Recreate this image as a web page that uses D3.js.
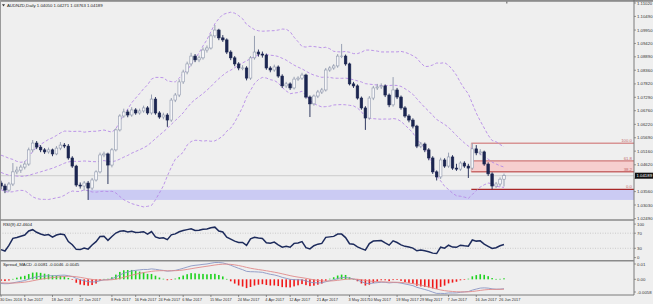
<!DOCTYPE html>
<html><head><meta charset="utf-8">
<script src="https://cdn.jsdelivr.net/npm/d3@7/dist/d3.min.js"></script>
<style>html,body{margin:0;padding:0;background:#efefef;}svg{display:block;}</style>
</head><body><div id="chart"></div>
<script>
// ---------------- DATA ----------------
const history = [1.0490,1.0478,1.0465,1.0482,1.0470,1.0455,1.0448,1.0460,1.0442,1.0430,1.0418,1.0425,1.0410,1.0400,1.0412,1.0395,1.0388,1.0402,1.0390];
const opens = [1.0390,1.0378,1.0362,1.0386,1.0434,1.0441,1.0453,1.0465,1.0521,1.0548,1.0532,1.0521,1.0513,1.0521,1.0505,1.0528,1.0540,1.0536,1.0489,1.0457,
1.0382,1.0378,1.0390,1.0370,1.0402,1.0434,1.0501,1.0505,1.0461,1.0521,1.0600,1.0655,1.0671,1.0659,1.0679,1.0667,1.0675,1.0687,1.0667,1.0722,
1.0667,1.0651,1.0659,1.0639,1.0718,1.0738,1.0790,1.0829,1.0861,1.0892,1.0877,1.0885,1.0916,1.0924,1.0972,1.0995,1.0964,1.0956,1.0908,1.0885,
1.0861,1.0845,1.0845,1.0805,1.0885,1.0908,1.0900,1.0896,1.0845,1.0837,1.0849,1.0813,1.0774,1.0782,1.0766,1.0801,1.0805,1.0817,1.0730,1.0703,
1.0734,1.0750,1.0758,1.0837,1.0845,1.0853,1.0892,1.0892,1.0861,1.0782,1.0774,1.0726,1.0687,1.0647,1.0726,1.0766,1.0770,1.0774,1.0738,1.0699,
1.0758,1.0730,1.0687,1.0655,1.0639,1.0615,1.0536,1.0544,1.0521,1.0489,1.0434,1.0414,1.0481,1.0457,1.0493,1.0449,1.0445,1.0469,1.0457,1.0449,
1.0525,1.0509,1.0513,1.0465,1.0426,1.0378,1.0386,1.04050];
const highs = [1.0399,1.0387,1.0394,1.0469,1.0455,1.0462,1.0476,1.0530,1.0560,1.0556,1.0540,1.0528,1.0530,1.0526,1.0536,1.0552,1.0548,1.0544,1.0496,1.0462,
1.0392,1.0398,1.0398,1.0410,1.0440,1.0510,1.0514,1.0510,1.0528,1.0606,1.0662,1.0684,1.0680,1.0690,1.0686,1.0684,1.0696,1.0694,1.0740,1.0730,
1.0674,1.0668,1.0666,1.0726,1.0746,1.0800,1.0838,1.0870,1.0905,1.0900,1.0894,1.0926,1.0934,1.0980,1.1015,1.1000,1.0975,1.0962,1.0915,1.0892,
1.0868,1.0856,1.0852,1.0892,1.0972,1.0918,1.0910,1.0902,1.0852,1.0858,1.0855,1.0820,1.0790,1.0788,1.0810,1.0812,1.0826,1.0822,1.0736,1.0740,
1.0758,1.0766,1.0845,1.0852,1.0860,1.0900,1.0940,1.0898,1.0866,1.0790,1.0780,1.0732,1.0694,1.0734,1.0774,1.0782,1.0784,1.0780,1.0744,1.0809,
1.0766,1.0736,1.0694,1.0662,1.0646,1.0620,1.0552,1.0550,1.0528,1.0496,1.0440,1.0490,1.0488,1.0510,1.0500,1.0466,1.0476,1.0476,1.0466,1.0547,
1.0540,1.0524,1.0518,1.0472,1.0432,1.0394,1.0412,1.04271];
const lows = [1.0366,1.0350,1.0355,1.0378,1.0425,1.0430,1.0444,1.0458,1.0512,1.0524,1.0512,1.0505,1.0506,1.0496,1.0500,1.0520,1.0528,1.0482,1.0450,1.0375,
1.0368,1.0360,1.0323,1.0362,1.0396,1.0428,1.0492,1.0386,1.0452,1.0515,1.0594,1.0648,1.0650,1.0652,1.0660,1.0660,1.0668,1.0660,1.0660,1.0660,
1.0644,1.0642,1.0612,1.0632,1.0710,1.0730,1.0782,1.0820,1.0852,1.0868,1.0868,1.0878,1.0906,1.0918,1.0964,1.0955,1.0948,1.0900,1.0876,1.0852,
1.0836,1.0836,1.0796,1.0798,1.0878,1.0890,1.0886,1.0838,1.0828,1.0830,1.0806,1.0766,1.0766,1.0758,1.0760,1.0794,1.0798,1.0724,1.0651,1.0696,
1.0726,1.0742,1.0752,1.0830,1.0838,1.0846,1.0884,1.0854,1.0776,1.0766,1.0720,1.0680,1.0600,1.0640,1.0718,1.0758,1.0762,1.0730,1.0690,1.0692,
1.0722,1.0680,1.0648,1.0630,1.0606,1.0528,1.0528,1.0512,1.0480,1.0426,1.0400,1.0406,1.0450,1.0450,1.0442,1.0438,1.0438,1.0450,1.0410,1.0442,
1.0500,1.0500,1.0458,1.0418,1.0365,1.0370,1.0376,1.03763];
const closes = [1.0378,1.0362,1.0386,1.0434,1.0441,1.0453,1.0465,1.0521,1.0548,1.0532,1.0521,1.0513,1.0521,1.0505,1.0528,1.0540,1.0536,1.0489,1.0457,1.0382,
1.0378,1.0390,1.0370,1.0402,1.0434,1.0501,1.0505,1.0461,1.0521,1.0600,1.0655,1.0671,1.0659,1.0679,1.0667,1.0675,1.0687,1.0667,1.0722,1.0667,
1.0651,1.0659,1.0639,1.0718,1.0738,1.0790,1.0829,1.0861,1.0892,1.0877,1.0885,1.0916,1.0924,1.0972,1.0995,1.0964,1.0956,1.0908,1.0885,1.0861,
1.0845,1.0845,1.0805,1.0885,1.0908,1.0900,1.0896,1.0845,1.0837,1.0849,1.0813,1.0774,1.0782,1.0766,1.0801,1.0805,1.0817,1.0730,1.0703,1.0734,
1.0750,1.0758,1.0837,1.0845,1.0853,1.0892,1.0892,1.0861,1.0782,1.0774,1.0726,1.0687,1.0647,1.0726,1.0766,1.0770,1.0774,1.0738,1.0699,1.0758,
1.0730,1.0687,1.0655,1.0639,1.0615,1.0536,1.0544,1.0521,1.0489,1.0434,1.0414,1.0481,1.0457,1.0493,1.0449,1.0445,1.0469,1.0457,1.0449,1.0525,
1.0509,1.0513,1.0465,1.0426,1.0378,1.0386,1.0405,1.04189];
const priceTicks = ["1.11020","1.10490","1.09950","1.09420","1.08890","1.08360","1.07820","1.07290","1.06760","1.06220","1.05690","1.05160","1.04620","1.04090","1.03560","1.03030","1.02490"];
const dateLabels = ["30 Dec 2016","9 Jan 2017","18 Jan 2017","27 Jan 2017","8 Feb 2017","16 Feb 2017","24 Feb 2017","6 Mar 2017","15 Mar 2017","24 Mar 2017","4 Apr 2017","12 Apr 2017","21 Apr 2017","3 May 2017","10 May 2017","19 May 2017","29 May 2017","7 Jun 2017","16 Jun 2017","26 Jun 2017"];
const rsiLevels = [70, 30];
const rsiTicks = ["100","70","30","0"];
const macdTickLabels = ["0.01","0.00","-0.0058"];
const fibLevels = [{name:"100.0", v:1.0547},{name:"61.8", v:1.04775},{name:"38.2", v:1.04345},{name:"0.0", v:1.0365}];
const supportZone = [1.0323, 1.0363];
const titleText = "AUDNZD,Daily  1.04050 1.04271 1.03763 1.04189";
const rsiTitle = "RSI(9) 42.4604";
const macdTitle = "Spread_MACD -0.0081 -0.0046 -0.0045";
const lastPrice = 1.04189;

// -------------- dates ---------------
const dates = d3.timeDay.range(new Date(2016,11,30), new Date(2017,5,28)).filter(d => d.getDay()!==0 && d.getDay()!==6);
const fmt = d3.timeFormat("%-d %b %Y");
const n = closes.length;

// -------------- indicators --------------
const all = history.concat(closes);
const H0 = history.length;
const bb = [];
for (let i=0;i<n;i++){
  const w = all.slice(i+H0-19, i+H0+1);
  const m = d3.mean(w);
  const sd = Math.sqrt(d3.mean(w, v => (v-m)*(v-m)));
  bb.push({i, mid:m, up:m+2*sd, lo:m-2*sd});
}
function ema(arr, p){ const k=2/(p+1); const out=[arr[0]]; for(let i=1;i<arr.length;i++) out.push(arr[i]*k+out[i-1]*(1-k)); return out; }
const e12 = ema(all,12), e26 = ema(all,26);
const macdAll = all.map((v,i)=>e12[i]-e26[i]);
const sigAll = ema(macdAll, 9);
const macd = [];
for (let i=0;i<n;i++){ const m = macdAll[i+H0], s = sigAll[i+H0]; macd.push({i, m, s, h:m-s}); }
// RSI(9) Wilder
const rsi = [];
{
  let ag=0, al=0; const p=9;
  for (let j=1;j<=p;j++){ const d=all[j]-all[j-1]; if(d>0) ag+=d; else al-=d; }
  ag/=p; al/=p;
  const vals = [];
  for (let j=p+1;j<all.length;j++){
    const d=all[j]-all[j-1];
    ag=(ag*(p-1)+(d>0?d:0))/p; al=(al*(p-1)+(d<0?-d:0))/p;
    vals[j] = al===0?100:100-100/(1+ag/al);
  }
  for (let i=0;i<n;i++) rsi.push({i, v: vals[i+H0]});
}

// -------------- layout --------------
const W=653, Ht=304, axisX=634;
const svg = d3.select("#chart").append("svg").attr("width",W).attr("height",Ht);
svg.append("rect").attr("width",W).attr("height",Ht).attr("fill","#efefef");
const font = "Liberation Sans, Arial, sans-serif";
const fs = 4.3;

const x = d3.scaleLinear().domain([0, n-1]).range([1, 504]);
const y = d3.scaleLinear().domain([1.03030, 1.11020]).range([205, 3]);
const yR = d3.scaleLinear().domain([0,100]).range([259.6, 221.9]);
const mExt = d3.extent(macd.flatMap(d=>[d.m,d.s]));
const yM = d3.scaleLinear().domain(mExt).range([293.5, 262.5]);
const histGain = 2.2; // display gain of histogram

const main = svg.append("g");
main.append("clipPath").attr("id","cm").append("rect").attr("x",0).attr("y",2).attr("width",axisX).attr("height",217);
const mg = main.append("g").attr("clip-path","url(#cm)");

// support zone
const zStart = x(lows.indexOf(supportZone[0]));
mg.append("rect").attr("x", zStart).attr("width", axisX - zStart)
  .attr("y", y(supportZone[1])).attr("height", y(supportZone[0]) - y(supportZone[1])).attr("fill","#cbcbf3");

// fib
const fibStart = x(highs.indexOf(fibLevels[0].v)) - 1;
mg.append("rect").attr("x",fibStart).attr("width",axisX-fibStart).attr("y",y(fibLevels[1].v)).attr("height",y(fibLevels[2].v)-y(fibLevels[1].v)).attr("fill","#f6cfcf");
mg.append("line").attr("x1",fibStart).attr("x2",fibStart).attr("y1",y(fibLevels[0].v)).attr("y2",y(fibLevels[2].v)).attr("stroke","#d9a0a0").attr("stroke-width",0.8);
const fibStyle = [{c:"#d89494",w:1.6},{c:"#cf7a7a",w:1.4},{c:"#c86a6a",w:1.4},{c:"#a82828",w:1.2}];
fibLevels.forEach((f,k)=>{
  mg.append("line").attr("x1",fibStart).attr("x2",axisX).attr("y1",y(f.v)).attr("y2",y(f.v)).attr("stroke",fibStyle[k].c).attr("stroke-width",fibStyle[k].w);
  mg.append("text").attr("x",axisX-2).attr("y",y(f.v)-1.2).attr("text-anchor","end").attr("font-family",font).attr("font-size",fs).attr("fill","#c46a6a").text(f.name);
});

// bid line
mg.append("line").attr("x1",0).attr("x2",axisX).attr("y1",y(lastPrice)).attr("y2",y(lastPrice)).attr("stroke","#c4c4c4").attr("stroke-width",0.8);

// bollinger
const bbColor = "#b58ae6";
["up","mid","lo"].forEach(k=>{
  mg.append("path").datum(bb).attr("fill","none").attr("stroke",bbColor).attr("stroke-width",0.9).attr("stroke-dasharray","3,2")
    .attr("d", d3.line().x(d=>x(d.i)).y(d=>y(d[k])));
});

// candles
const candles = mg.append("g");
const bw = 2.6;
for (let i=0;i<n;i++){
  const o=opens[i], c=closes[i], hh=highs[i], ll=lows[i];
  const bull = c>=o;
  const col = bull ? "#8d96ab" : "#1b2550";
  candles.append("line").attr("x1",x(i)).attr("x2",x(i)).attr("y1",y(hh)).attr("y2",y(ll)).attr("stroke",col).attr("stroke-width",0.9);
  const top = y(Math.max(o,c)), bot = y(Math.min(o,c));
  candles.append("rect").attr("x",x(i)-bw/2).attr("width",bw).attr("y",top).attr("height",Math.max(0.6,bot-top))
    .attr("fill", bull ? "#f6f6f8" : "#1b2550").attr("stroke",col).attr("stroke-width",0.6);
}

// title
svg.append("path").attr("d","M2,4.2L5,4.2L3.5,6.6Z").attr("fill","#333");
svg.append("text").attr("x",7).attr("y",6.8).attr("font-family",font).attr("font-size",fs).attr("fill","#222").text(titleText);

// price axis
priceTicks.forEach(t=>{
  const yy = y(+t);
  svg.append("line").attr("x1",axisX).attr("x2",axisX+2).attr("y1",yy).attr("y2",yy).attr("stroke","#555").attr("stroke-width",0.6);
  if (Math.abs(yy - y(lastPrice)) < 6) return; // hidden under the price box
  svg.append("text").attr("x",axisX+3).attr("y",yy+1.5).attr("font-family",font).attr("font-size",fs).attr("fill","#333").text(t);
});
// last price box
svg.append("rect").attr("x",axisX+1).attr("y",y(lastPrice)-3).attr("width",18).attr("height",6).attr("fill","#111");
svg.append("text").attr("x",axisX+2.5).attr("y",y(lastPrice)+1.6).attr("font-family",font).attr("font-size",fs).attr("fill","#fff").text(lastPrice.toFixed(5));

// RSI panel
svg.append("text").attr("x",3).attr("y",225.5).attr("font-family",font).attr("font-size",fs).attr("fill","#222").text(rsiTitle);
rsiLevels.forEach(l=>{
  svg.append("line").attr("x1",0).attr("x2",axisX).attr("y1",yR(l)).attr("y2",yR(l)).attr("stroke","#b4b4b4").attr("stroke-width",0.6).attr("stroke-dasharray","1,1.5");
});
svg.append("path").datum(rsi).attr("fill","none").attr("stroke","#1d2b5c").attr("stroke-width",1.5)
  .attr("d", d3.line().x(d=>x(d.i)).y(d=>yR(d.v)));
const rsiTickY = [yR(100)+2.2, yR(70), yR(30), yR(0)-2];
rsiTicks.forEach((t,k)=>{
  svg.append("line").attr("x1",axisX).attr("x2",axisX+2).attr("y1",rsiTickY[k]).attr("y2",rsiTickY[k]).attr("stroke","#555").attr("stroke-width",0.6);
  svg.append("text").attr("x",axisX+3).attr("y",rsiTickY[k]+1.5).attr("font-family",font).attr("font-size",fs).attr("fill","#333").text(t);
});

// MACD panel
svg.append("text").attr("x",3).attr("y",265.5).attr("font-family",font).attr("font-size",fs).attr("fill","#222").text(macdTitle);
const hg = svg.append("g");
macd.forEach(d=>{
  const y0 = yM(0), y1 = yM(d.h*histGain);
  hg.append("rect").attr("x",x(d.i)-0.8).attr("width",1.6).attr("y",Math.min(y0,y1)).attr("height",Math.max(0.6,Math.abs(y1-y0)))
    .attr("fill", d.h>=0 ? "#1ed21e" : "#f01818");
});
svg.append("path").datum(macd).attr("fill","none").attr("stroke","#8a96c4").attr("stroke-width",0.9).attr("d", d3.line().x(d=>x(d.i)).y(d=>yM(d.m)));
svg.append("path").datum(macd).attr("fill","none").attr("stroke","#e08a8a").attr("stroke-width",0.9).attr("d", d3.line().x(d=>x(d.i)).y(d=>yM(d.s)));
const macdTickY = [264, yM(0), 292];
macdTickLabels.forEach((t,k)=>{
  svg.append("line").attr("x1",axisX).attr("x2",axisX+2).attr("y1",macdTickY[k]).attr("y2",macdTickY[k]).attr("stroke","#555").attr("stroke-width",0.6);
  svg.append("text").attr("x",axisX+3).attr("y",macdTickY[k]+1.5).attr("font-family",font).attr("font-size",fs).attr("fill","#333").text(t);
});

// frame lines
const fc = "#8a8a8a";
svg.append("rect").attr("x",0).attr("y",0).attr("width",W).attr("height",1.8).attr("fill","#8c8c8c");
svg.append("line").attr("x1",0.5).attr("x2",0.5).attr("y1",0).attr("y2",295).attr("stroke","#9a9a9a").attr("stroke-width",1);
svg.append("line").attr("x1",axisX).attr("x2",axisX).attr("y1",0).attr("y2",295).attr("stroke","#6e6e6e").attr("stroke-width",0.9);
[220, 260.8].forEach(yy=> svg.append("line").attr("x1",0).attr("x2",axisX).attr("y1",yy).attr("y2",yy).attr("stroke",fc).attr("stroke-width",1.6));
svg.append("line").attr("x1",0).attr("x2",axisX).attr("y1",295).attr("y2",295).attr("stroke","#6e6e6e").attr("stroke-width",0.9);
svg.append("rect").attr("x",506).attr("y",0).attr("width",1.5).attr("height",3.5).attr("fill","#8c8c8c");

// date axis
dateLabels.forEach(lbl=>{
  const idx = dates.findIndex(d=>fmt(d)===lbl);
  if (idx<0) return;
  svg.append("line").attr("x1",x(idx)).attr("x2",x(idx)).attr("y1",295).attr("y2",297).attr("stroke","#555").attr("stroke-width",0.6);
  svg.append("text").attr("x",x(idx)-1).attr("y",300.5).attr("font-family",font).attr("font-size",3.9).attr("fill","#333").text(lbl);
});
</script></body></html>
